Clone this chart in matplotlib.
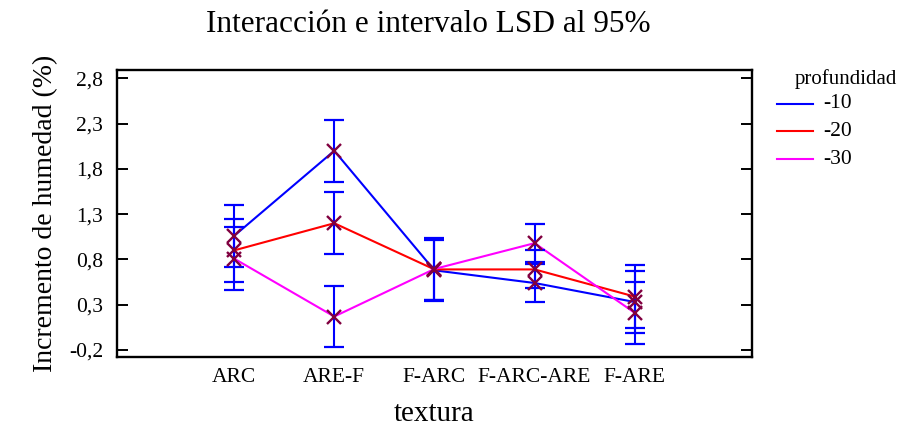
import matplotlib
matplotlib.use("Agg")
import matplotlib.pyplot as plt
from matplotlib.lines import Line2D
from matplotlib.ticker import FixedLocator, FuncFormatter

plt.rcParams['font.family'] = ['Liberation Serif', 'DejaVu Serif']

# Data: mean moisture increment per soil texture and depth, with LSD half-widths
texturas = ["ARC", "ARE-F", "F-ARC", "F-ARC-ARE", "F-ARE"]
profundidades = ["-10", "-20", "-30"]
medias_10 = [1.06, 2.00, 0.68, 0.54, 0.33]
medias_20 = [0.90, 1.20, 0.69, 0.69, 0.39]
medias_30 = [0.81, 0.17, 0.695, 0.98, 0.21]
lsd_semi = [0.345, 0.34, 0.34, 0.21, 0.345]
y_ticks = [-0.2, 0.3, 0.8, 1.3, 1.8, 2.3, 2.8]

series = [medias_10, medias_20, medias_30]
colores = ["#0000ff", "#ff0000", "#ff00ff"]
marker_color = "#800040"

fig = plt.figure(figsize=(9.06, 4.32), dpi=100)
ax = fig.add_axes([0.129, 0.1736, 0.701, 0.6644])

x = list(range(len(texturas)))

for vals, col in zip(series, colores):
    ax.plot(x, vals, color=col, lw=1.5, zorder=2)

for vals in series:
    ax.errorbar(x, vals, yerr=lsd_semi, fmt="none", ecolor="#0000ff",
                elinewidth=1.5, capsize=7, capthick=1.6, zorder=3)

for vals in series:
    ax.plot(x, vals, linestyle="none", marker="x", markersize=10,
            markeredgewidth=1.7, color=marker_color, zorder=4)

ax.set_xlim(-1.17, 5.17)
ax.set_ylim(-0.277, 2.892)

ax.set_xticks(x)
ax.set_xticklabels(texturas, fontsize=15.5)
ax.tick_params(axis="x", length=0, pad=8)

ax.yaxis.set_major_locator(FixedLocator(y_ticks))
ax.yaxis.set_major_formatter(FuncFormatter(lambda v, p: f"{v:.1f}".replace(".", ",")))
ax.tick_params(axis="y", direction="in", length=8, width=1.4, labelsize=15.5,
               left=True, right=True, pad=10)

for sp in ax.spines.values():
    sp.set_linewidth(1.7)

ax.set_xlabel("textura", fontsize=21, labelpad=10)
ax.set_ylabel("Incremento de humedad (%)", fontsize=20, labelpad=8)
fig.text(0.473, 0.943, "Interacción e intervalo LSD al 95%", fontsize=22.5,
         ha="center", va="center")

# Legend drawn in figure coordinates to the right of the plot
W, H = 906.0, 432.0
fig.text(795 / W, 1 - 79 / H, "profundidad", fontsize=15, ha="left", va="center")
for lab, col, yy in zip(profundidades, colores, [104, 131, 159]):
    fig.add_artist(Line2D([777 / W, 813 / W], [1 - yy / H, 1 - yy / H],
                          color=col, lw=1.5, transform=fig.transFigure))
    fig.text(823 / W, 1 - yy / H, lab, fontsize=15.5, ha="left", va="center")

fig.savefig("out.png", dpi=100)
